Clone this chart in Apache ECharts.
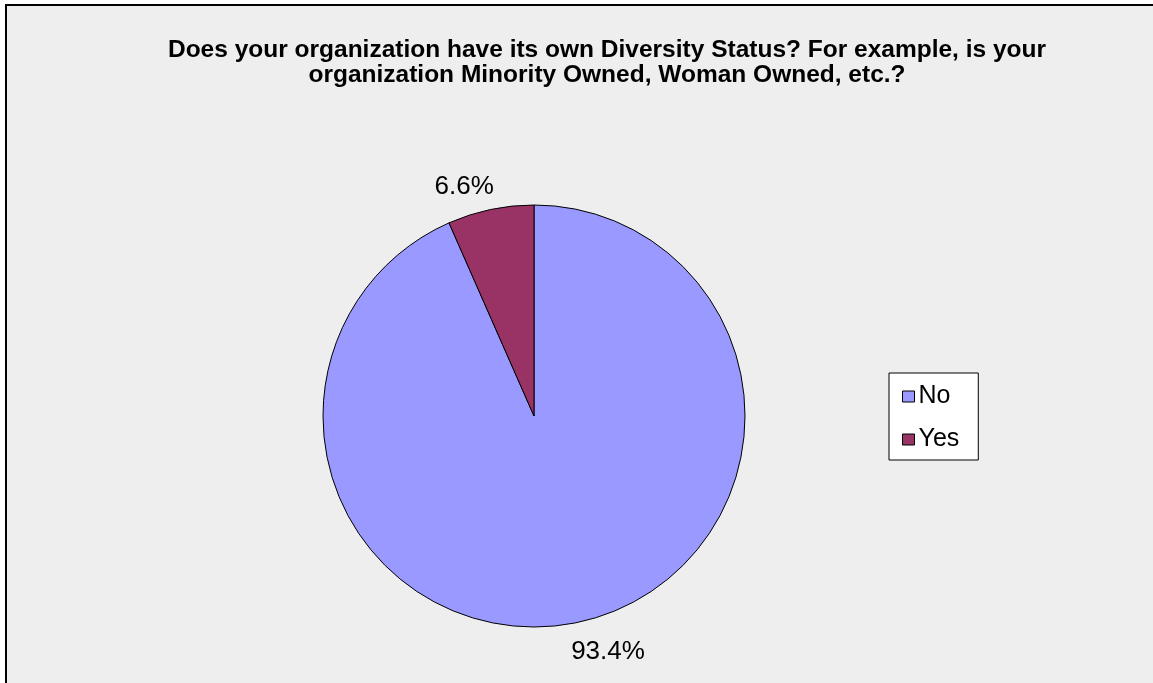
<!DOCTYPE html>
<html>
<head>
<meta charset="utf-8">
<script src="https://cdn.jsdelivr.net/npm/echarts@6/dist/echarts.min.js"></script>
<style>
html,body{margin:0;padding:0;background:#fff;}
#c{width:1153px;height:683px;}
</style>
</head>
<body>
<div id="c"></div>
<script>
const titleLines = [
  "Does your organization have its own Diversity Status? For example, is your",
  "organization Minority Owned, Woman Owned, etc.?"
];
const categories = ["No", "Yes"];
const values = [93.4, 6.6];
const colors = ["#9999FF", "#993366"];

const chart = echarts.init(document.getElementById('c'), null, {renderer: 'canvas'});
chart.setOption({
  backgroundColor: '#ffffff',
  animation: false,
  graphic: [{
    type: 'rect',
    z: -10,
    shape: {x: 6, y: 5, width: 1200, height: 800},
    style: {fill: '#EEEEEE', stroke: '#000', lineWidth: 2}
  }],
  title: {
    text: titleLines.join('\n'),
    left: 602,
    top: 33,
    textAlign: 'center',
    textStyle: {
      fontFamily: 'Liberation Sans, Arial, sans-serif',
      fontWeight: 'bold',
      fontSize: 24.5,
      lineHeight: 25,
      color: '#000'
    }
  },
  legend: {
    orient: 'vertical',
    left: 889,
    top: 373,
    backgroundColor: '#ffffff',
    borderColor: '#000',
    borderWidth: 1,
    padding: [11, 19, 8, 13],
    itemWidth: 12,
    itemHeight: 11,
    itemGap: 18,
    icon: 'rect',
    data: categories,
    itemStyle: {borderColor: '#000', borderWidth: 1},
    textStyle: {
      fontFamily: 'Liberation Sans, Arial, sans-serif',
      fontSize: 25,
      lineHeight: 24,
      color: '#000',
      padding: [0, 0, 0, -1]
    }
  },
  series: [{
    type: 'pie',
    center: [534, 416],
    radius: 211,
    startAngle: 90,
    clockwise: true,
    color: colors,
    itemStyle: {borderColor: '#000', borderWidth: 1},
    label: {
      show: true,
      position: 'outside',
      formatter: p => p.value.toFixed(1) + '%',
      fontFamily: 'Liberation Sans, Arial, sans-serif',
      fontSize: 26,
      color: '#000'
    },
    labelLine: {show: false, length: 18, length2: 0},
    labelLayout: p => p.dataIndex === 0 ? {dx: -15, dy: 12} : {dx: 12, dy: -5},
    emphasis: {disabled: true},
    data: categories.map((c, i) => ({name: c, value: values[i]}))
  }]
});
</script>
</body>
</html>
